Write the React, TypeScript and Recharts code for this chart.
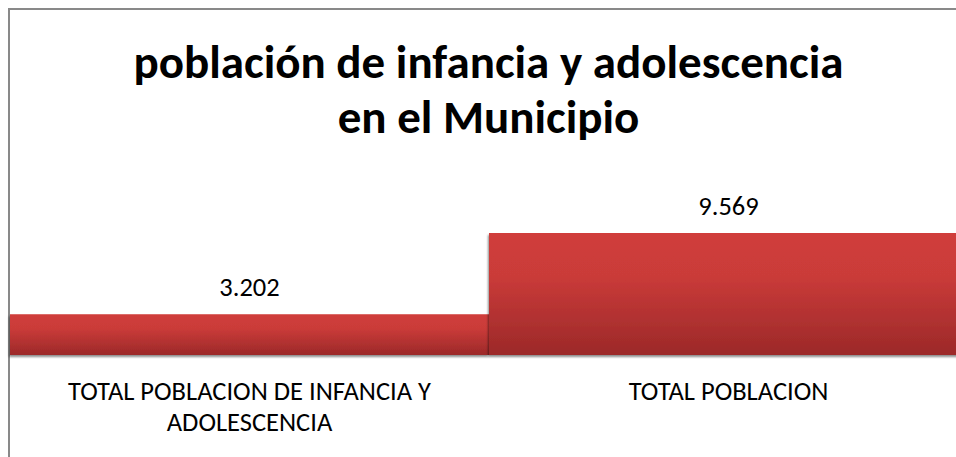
import { BarChart, Bar, XAxis, YAxis, LabelList } from "recharts";

const categories = [
  "TOTAL POBLACION DE INFANCIA Y ADOLESCENCIA",
  "TOTAL POBLACION",
];
const values = [3202, 9569];
const titleLines = ["población de infancia y adolescencia", "en el Municipio"];

const data = categories.map((name, i) => ({ name, value: values[i] }));

const FONT = "Carlito, Lato, 'Open Sans', sans-serif";

const fmt = (v: number) => String(v).replace(/\B(?=(\d{3})+(?!\d))/g, ".");

// simple word wrap, labels longer than ~30 chars go on two lines
const wrap = (s: string, max = 30) => {
  const lines: string[] = [];
  let cur = "";
  s.split(" ").forEach((w) => {
    const next = cur ? cur + " " + w : w;
    if (next.length > max && cur) {
      lines.push(cur);
      cur = w;
    } else {
      cur = next;
    }
  });
  if (cur) lines.push(cur);
  return lines;
};

const CategoryTick = (props: any) => {
  const { x, y, payload } = props;
  const lines = wrap(String(payload.value));
  return (
    <text
      x={x}
      y={y + 37}
      textAnchor="middle"
      fontSize={26.5}
      fontFamily={FONT}
      fill="#000"
    >
      {lines.map((l, i) => (
        <tspan key={i} x={x} dy={i === 0 ? 0 : 31}>
          {l}
        </tspan>
      ))}
    </text>
  );
};

export default function App() {
  return (
    <div
      style={{
        position: "absolute",
        left: 0,
        top: 0,
        width: 956,
        height: 457,
        overflow: "hidden",
        background: "#fff",
      }}
    >
      <div
        style={{
          position: "absolute",
          left: 8,
          top: 8,
          width: 961,
          height: 480,
          border: "2px solid #898989",
          boxSizing: "border-box",
        }}
      />
      <div
        style={{
          position: "absolute",
          left: 8,
          top: 35,
          width: 961,
          textAlign: "center",
          fontFamily: FONT,
          fontWeight: 700,
          fontSize: 47,
          lineHeight: "55px",
          color: "#000",
        }}
      >
        {titleLines.map((t) => (
          <div key={t}>{t}</div>
        ))}
      </div>
      <div style={{ position: "absolute", left: 0, top: 0 }}>
        <BarChart
          width={980}
          height={460}
          data={data}
          margin={{ top: 227.5, right: 12, left: 10, bottom: 25 }}
          barCategoryGap={0}
        >
          <defs>
            <linearGradient id="redGrad" x1="0" y1="0" x2="0" y2="1">
              <stop offset="0%" stopColor="#D03E3B" />
              <stop offset="35%" stopColor="#CA3B39" />
              <stop offset="100%" stopColor="#9C2929" />
            </linearGradient>
            <filter id="barShadow" x="-5%" y="-10%" width="110%" height="125%">
              <feDropShadow dx="-1" dy="2" stdDeviation="1.2" floodColor="#000" floodOpacity="0.45" />
            </filter>
          </defs>
          <YAxis hide domain={[0, 10000]} />
          <XAxis
            dataKey="name"
            axisLine={false}
            tickLine={false}
            interval={0}
            height={80}
            tick={<CategoryTick />}
          />
          <Bar
            dataKey="value"
            fill="url(#redGrad)"
            filter="url(#barShadow)"
            isAnimationActive={false}
          >
            <LabelList
              dataKey="value"
              position="top"
              offset={18}
              formatter={(v: any) => fmt(Number(v))}
              fontSize={26.5}
              fontFamily={FONT}
              fill="#000"
            />
          </Bar>
        </BarChart>
      </div>
    </div>
  );
}
